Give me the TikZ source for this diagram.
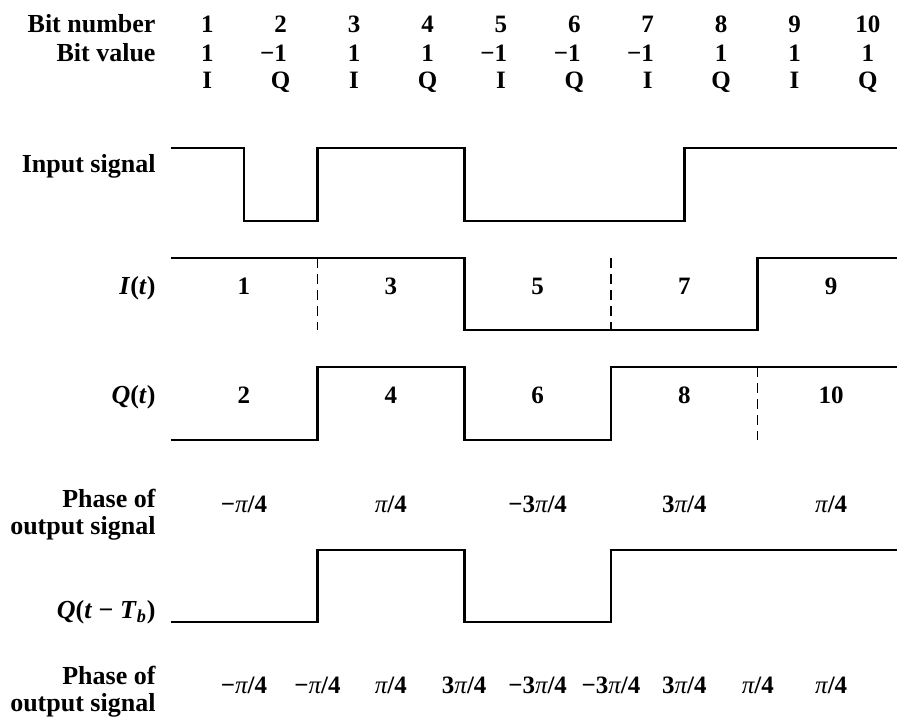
\documentclass[tikz,border=0pt]{standalone}
\usepackage{fontspec}
\setmainfont{Liberation Serif}
\usetikzlibrary{positioning}
\newcommand{\phs}[1]{#1{\mdseries\itshape π}/4}

\begin{document}
\begin{tikzpicture}[x=36.7pt, y=-0.5pt,
  lbl/.style={anchor=base east, font=\bfseries\fontsize{13}{13.5}\selectfont, inner sep=0pt},
  lbl2/.style={anchor=east, align=right, font=\bfseries\fontsize{13}{13.5}\selectfont, inner sep=0pt},
  val/.style={anchor=base, font=\bfseries\fontsize{12.5}{13}\selectfont, inner sep=0pt},
  wave/.style={line width=1.4pt, line join=miter},
  sep/.style={line width=0.6pt, dash pattern=on 5pt off 3pt}]
  \useasboundingbox (-2.324,0) rectangle (9.896,720);

  % header rows
  \node[lbl] (bitnum) at (-0.2,32) {Bit number};
  \node[lbl] (bitval) at (-0.2,61) {Bit value};
  \foreach \k in {1,...,10}
    \node[val] (num\k) at (\k-0.5,32) {\k};
  \foreach \v [count=\k] in {1,\llap{−}1,1,1,\llap{−}1,\llap{−}1,\llap{−}1,1,1,1}
    \node[val] (bv\k) at (\k-0.5,61) {\v};
  \foreach \c [count=\k] in {I,Q,I,Q,I,Q,I,Q,I,Q}
    \node[val] (ch\k) at (\k-0.5,88) {\c};

  % input signal
  \node[lbl] (inlbl) at (-0.2,172) {Input signal};
  \draw[wave] (0,148) -- (1,148) -- (1,221) -- (2,221) -- (2,148) -- (4,148)
    -- (4,221) -- (7,221) -- (7,148) -- (9.9,148);

  % I(t)
  \node[lbl] (ilbl) at (-0.2,294) {\textit{I}(\textit{t})};
  \draw[wave] (0,258) -- (4,258) -- (4,330) -- (8,330) -- (8,258) -- (9.9,258);
  \draw[sep] (2,258) -- (2,330);
  \draw[sep] (6,258) -- (6,330);
  \foreach \n [count=\j] in {1,3,5,7,9}
    \node[val] (ib\n) at (2*\j-1,294) {\n};

  % Q(t)
  \node[lbl] (qlbl) at (-0.2,403) {\textit{Q}(\textit{t})};
  \draw[wave] (0,440) -- (2,440) -- (2,367) -- (4,367) -- (4,440) -- (6,440)
    -- (6,367) -- (9.9,367);
  \draw[sep] (8,367) -- (8,440);
  \foreach \n [count=\j] in {2,4,6,8,10}
    \node[val] (qb\n) at (2*\j-1,403) {\n};

  % phase, first row
  \node[lbl2] (ph1lbl) at (-0.2,515) {Phase of\\output signal};
  \foreach \p [count=\j] in {\phs{−},\phs{},\phs{−3},\phs{3},\phs{}}
    \node[val] (pa\j) at (2*\j-1,512) {\p};

  % Q(t - Tb)
  \node[lbl] (qdlbl) at (-0.2,618) {\textit{Q}(\textit{t} − \textit{T}\textsubscript{\textit{b}})};
  \draw[wave] (0,622) -- (2,622) -- (2,550) -- (4,550) -- (4,622) -- (6,622)
    -- (6,550) -- (9.9,550);

  % phase, second row
  \node[lbl2] (ph2lbl) at (-0.2,692) {Phase of\\output signal};
  \foreach \p [count=\k] in {\phs{−},\phs{−},\phs{},\phs{3},\phs{−3},\phs{−3},\phs{3},\phs{},\phs{}}
    \node[val] (pb\k) at (\k,693) {\p};
\end{tikzpicture}
\end{document}
